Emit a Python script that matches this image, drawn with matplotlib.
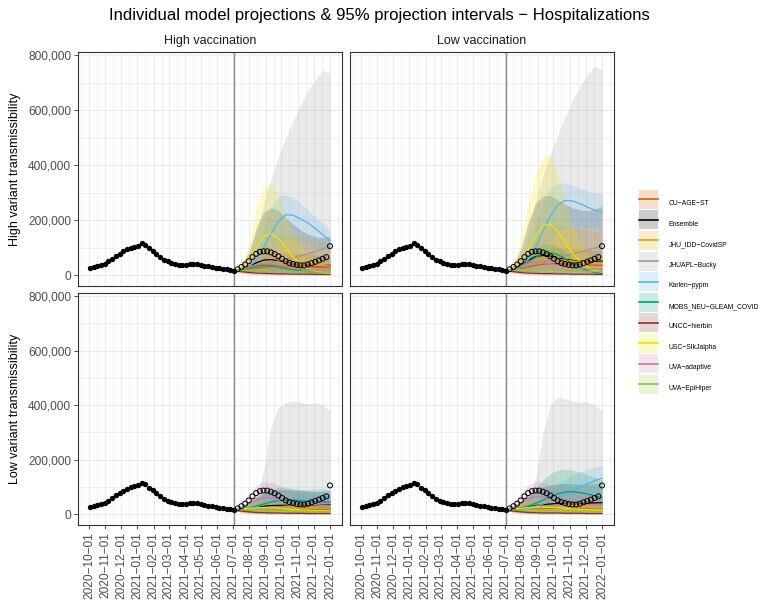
import matplotlib
matplotlib.use("Agg")
import matplotlib.pyplot as plt
import matplotlib.dates as mdates
from matplotlib.patches import Patch, Rectangle
from matplotlib.lines import Line2D
from matplotlib.legend_handler import HandlerPatch
import numpy as np
import pandas as pd

plt.rcParams['font.family'] = ['Liberation Sans', 'DejaVu Sans']

# observed weekly hospitalizations (thousands)
obs_dates = pd.date_range("2020-10-03", "2022-01-01", freq="7D")
obs_past = [28, 31, 34, 37, 42, 50, 60, 70, 79, 87, 94, 100, 104, 108, 116, 110,
            98, 88, 77, 66, 57, 50, 45, 41, 38, 37, 38, 40, 41, 40, 38, 35, 32,
            30, 28, 25, 23, 21, 19, 17]
obs_future = [22, 30, 39, 51, 66, 78, 85, 87, 87, 83, 77, 69, 60, 51, 45, 41,
              38, 36, 36, 39, 44, 49, 54, 60, 66, 106]

proj_dates = pd.date_range("2021-07-03", "2022-01-01", freq="14D")
proj_start = pd.Timestamp("2021-07-03")

models = ["CU-AGE-ST", "Ensemble", "JHU_IDD-CovidSP", "JHUAPL-Bucky", "Karlen-pypm",
          "MOBS_NEU-GLEAM_COVID", "UNCC-hierbin", "USC-SIkJalpha", "UVA-adaptive",
          "UVA-EpiHiper"]
colors = ["#D55E00", "#000000", "#E69F00", "#999999", "#56B4E9",
          "#009E73", "#8B2F23", "#F2E200", "#CC79A7", "#8CC63F"]

# (median, lower, upper) per model, thousands
high_var_high_vax = {
    "CU-AGE-ST": ([17, 19, 22, 26, 30, 32, 33, 33, 32, 31, 30, 29, 28, 27],
                  [17, 14, 13, 13, 13, 13, 12, 12, 11, 11, 10, 10, 10, 10],
                  [17, 26, 38, 55, 70, 80, 84, 84, 82, 79, 76, 74, 72, 70]),
    "Ensemble": ([17, 22, 32, 45, 55, 57, 53, 47, 42, 38, 36, 35, 35, 36],
                 [17, 13, 12, 12, 11, 10, 9, 8, 8, 7, 7, 7, 7, 7],
                 [17, 35, 85, 170, 230, 245, 235, 210, 185, 165, 150, 140, 138, 140]),
    "JHU_IDD-CovidSP": ([17, 20, 27, 36, 44, 48, 48, 45, 42, 40, 38, 36, 35, 34],
                        [17, 12, 12, 14, 15, 15, 14, 13, 12, 11, 10, 10, 9, 9],
                        [17, 28, 50, 85, 115, 135, 145, 148, 147, 143, 138, 133, 127, 120]),
    "JHUAPL-Bucky": ([17, 22, 28, 34, 40, 46, 52, 58, 64, 71, 78, 86, 95, 105],
                     [17, 5, 3, 2, 2, 2, 2, 2, 2, 2, 2, 2, 2, 2],
                     [17, 30, 60, 150, 260, 350, 430, 500, 560, 620, 670, 710, 745, 735]),
    "Karlen-pypm": ([17, 20, 30, 55, 100, 150, 195, 220, 218, 205, 190, 170, 148, 125],
                    [17, 15, 20, 30, 50, 80, 110, 130, 130, 125, 115, 105, 95, 85],
                    [17, 25, 45, 90, 170, 250, 285, 292, 282, 262, 238, 212, 188, 165]),
    "MOBS_NEU-GLEAM_COVID": ([17, 20, 26, 33, 37, 36, 31, 25, 20, 16, 13, 11, 10, 9],
                             [17, 16, 19, 22, 23, 22, 19, 15, 12, 9, 7, 6, 5, 4],
                             [17, 24, 34, 48, 56, 56, 50, 42, 35, 30, 26, 23, 21, 20]),
    "UNCC-hierbin": ([17, 13, 10, 8, 7, 6, 5, 5, 4, 4, 4, 3, 3, 3],
                     [17, 9, 6, 4, 3, 3, 2, 2, 2, 1, 1, 1, 1, 1],
                     [17, 18, 17, 16, 15, 14, 13, 12, 11, 10, 10, 9, 9, 9]),
    "USC-SIkJalpha": ([17, 25, 50, 100, 140, 152, 135, 100, 65, 40, 25, 15, 10, 7],
                      [17, 15, 20, 30, 40, 45, 40, 30, 20, 12, 8, 5, 3, 2],
                      [17, 40, 110, 240, 320, 335, 290, 220, 160, 110, 75, 50, 35, 25]),
    "UVA-adaptive": ([17, 22, 30, 38, 42, 40, 35, 30, 26, 23, 21, 20, 19, 18],
                     [17, 15, 17, 20, 21, 20, 17, 14, 12, 10, 9, 8, 8, 7],
                     [17, 30, 50, 70, 80, 78, 70, 60, 52, 46, 42, 40, 38, 37]),
    "UVA-EpiHiper": ([17, 18, 19, 19, 18, 17, 16, 15, 14, 13, 12, 12, 11, 11],
                     [17, 14, 13, 12, 11, 10, 9, 8, 8, 7, 7, 6, 6, 6],
                     [17, 22, 25, 27, 27, 26, 25, 24, 22, 21, 20, 19, 18, 18]),
}

high_var_low_vax = {
    "CU-AGE-ST": ([17, 20, 24, 30, 36, 40, 42, 42, 41, 40, 39, 38, 37, 36],
                  [17, 14, 14, 15, 16, 16, 16, 15, 15, 14, 14, 13, 13, 13],
                  [17, 28, 42, 62, 80, 92, 98, 100, 99, 97, 95, 93, 91, 90]),
    "Ensemble": ([17, 24, 38, 55, 68, 72, 70, 64, 58, 54, 51, 50, 50, 52],
                 [17, 13, 12, 12, 12, 11, 10, 9, 9, 8, 8, 8, 8, 8],
                 [17, 38, 95, 190, 260, 288, 290, 275, 258, 245, 238, 235, 240, 250]),
    "JHU_IDD-CovidSP": ([17, 22, 30, 42, 52, 58, 60, 58, 55, 52, 50, 48, 47, 46],
                        [17, 13, 13, 15, 17, 18, 18, 17, 16, 15, 14, 14, 13, 13],
                        [17, 30, 55, 95, 135, 162, 175, 180, 178, 175, 170, 165, 160, 155]),
    "JHUAPL-Bucky": ([17, 22, 28, 35, 42, 49, 56, 63, 70, 77, 84, 91, 99, 107],
                     [17, 5, 3, 2, 2, 2, 2, 2, 2, 2, 2, 2, 2, 2],
                     [17, 30, 60, 150, 270, 360, 440, 510, 575, 635, 685, 728, 762, 745]),
    "Karlen-pypm": ([17, 20, 30, 55, 100, 160, 215, 255, 272, 270, 260, 248, 237, 229],
                    [17, 15, 20, 30, 50, 85, 125, 155, 170, 175, 175, 172, 170, 168],
                    [17, 25, 45, 95, 180, 270, 320, 335, 335, 326, 316, 306, 300, 296]),
    "MOBS_NEU-GLEAM_COVID": ([17, 22, 32, 48, 65, 78, 82, 75, 60, 42, 28, 17, 10, 6],
                             [17, 17, 22, 32, 42, 50, 52, 47, 38, 26, 17, 10, 6, 3],
                             [17, 28, 45, 70, 95, 110, 115, 105, 85, 62, 42, 28, 18, 12]),
    "UNCC-hierbin": ([17, 13, 10, 8, 7, 6, 6, 5, 5, 4, 4, 4, 3, 3],
                     [17, 9, 6, 4, 3, 3, 2, 2, 2, 1, 1, 1, 1, 1],
                     [17, 19, 18, 17, 16, 15, 14, 13, 12, 11, 11, 10, 10, 10]),
    "USC-SIkJalpha": ([17, 25, 45, 90, 140, 180, 185, 160, 120, 80, 50, 30, 18, 12],
                      [17, 15, 20, 30, 45, 55, 55, 45, 32, 20, 13, 8, 5, 3],
                      [17, 45, 120, 250, 370, 430, 435, 370, 270, 180, 120, 80, 55, 40]),
    "UVA-adaptive": ([17, 23, 33, 43, 48, 47, 42, 36, 31, 28, 26, 24, 23, 22],
                     [17, 15, 18, 21, 23, 22, 19, 16, 14, 12, 11, 10, 9, 9],
                     [17, 32, 55, 78, 90, 88, 80, 68, 58, 52, 48, 45, 43, 42]),
    "UVA-EpiHiper": ([17, 18, 20, 21, 21, 20, 19, 18, 17, 16, 15, 14, 14, 13],
                     [17, 14, 13, 13, 12, 11, 10, 10, 9, 8, 8, 7, 7, 7],
                     [17, 23, 27, 30, 30, 29, 28, 27, 25, 24, 23, 22, 21, 21]),
}

low_var_high_vax = {
    "CU-AGE-ST": ([17, 17, 18, 19, 20, 20, 20, 20, 19, 19, 18, 18, 18, 17],
                  [17, 12, 10, 9, 9, 8, 8, 8, 7, 7, 7, 7, 6, 6],
                  [17, 22, 27, 32, 36, 38, 39, 39, 38, 37, 36, 35, 35, 34]),
    "Ensemble": ([17, 19, 22, 26, 30, 32, 33, 33, 33, 33, 33, 33, 34, 35],
                 [17, 11, 9, 8, 7, 7, 6, 6, 6, 6, 6, 6, 6, 6],
                 [17, 28, 45, 65, 80, 88, 90, 90, 88, 87, 86, 86, 87, 88]),
    "JHU_IDD-CovidSP": ([17, 18, 19, 21, 22, 23, 23, 23, 22, 22, 22, 21, 21, 21],
                        [17, 11, 10, 10, 10, 9, 9, 9, 9, 8, 8, 8, 8, 8],
                        [17, 25, 33, 42, 48, 52, 54, 54, 53, 52, 51, 50, 50, 49]),
    "JHUAPL-Bucky": ([17, 18, 20, 22, 24, 26, 28, 30, 32, 34, 36, 38, 40, 42],
                     [17, 4, 2, 1, 1, 1, 1, 1, 1, 1, 1, 1, 1, 1],
                     [17, 20, 30, 60, 160, 320, 390, 410, 415, 410, 405, 408, 400, 380]),
    "Karlen-pypm": ([17, 18, 22, 28, 35, 42, 48, 52, 55, 57, 58, 60, 62, 64],
                    [17, 12, 13, 16, 20, 25, 28, 30, 32, 33, 34, 35, 36, 37],
                    [17, 25, 40, 60, 75, 85, 90, 92, 92, 92, 93, 94, 95, 96]),
    "MOBS_NEU-GLEAM_COVID": ([17, 19, 23, 30, 38, 45, 50, 52, 52, 50, 48, 47, 46, 45],
                             [17, 14, 14, 16, 19, 22, 25, 26, 26, 25, 24, 23, 22, 22],
                             [17, 25, 38, 55, 75, 90, 100, 100, 95, 90, 85, 82, 80, 78]),
    "UNCC-hierbin": ([17, 12, 9, 7, 6, 5, 5, 4, 4, 4, 3, 3, 3, 3],
                     [17, 8, 5, 3, 3, 2, 2, 2, 1, 1, 1, 1, 1, 1],
                     [17, 16, 14, 13, 12, 11, 10, 10, 9, 9, 8, 8, 8, 8]),
    "USC-SIkJalpha": ([17, 19, 22, 24, 25, 24, 22, 20, 18, 16, 15, 14, 13, 12],
                      [17, 12, 11, 11, 10, 9, 8, 7, 6, 6, 5, 5, 4, 4],
                      [17, 28, 38, 48, 52, 50, 46, 42, 38, 34, 31, 29, 27, 25]),
    "UVA-adaptive": ([17, 25, 40, 55, 62, 60, 52, 45, 40, 37, 35, 34, 33, 33],
                     [17, 18, 25, 32, 35, 33, 28, 24, 21, 19, 18, 17, 16, 16],
                     [17, 40, 75, 105, 118, 118, 108, 95, 85, 78, 74, 72, 70, 70]),
    "UVA-EpiHiper": ([17, 17, 17, 17, 16, 15, 14, 13, 12, 12, 11, 11, 10, 10],
                     [17, 13, 12, 11, 10, 9, 8, 8, 7, 7, 6, 6, 6, 5],
                     [17, 21, 23, 24, 24, 23, 22, 21, 20, 19, 18, 18, 17, 17]),
}

low_var_low_vax = {
    "CU-AGE-ST": ([17, 17, 18, 20, 21, 22, 22, 22, 22, 21, 21, 21, 20, 20],
                  [17, 12, 10, 9, 9, 9, 8, 8, 8, 8, 7, 7, 7, 7],
                  [17, 22, 28, 34, 39, 42, 44, 44, 43, 42, 41, 40, 40, 39]),
    "Ensemble": ([17, 19, 22, 27, 32, 36, 38, 40, 41, 41, 41, 41, 42, 43],
                 [17, 11, 9, 8, 7, 7, 7, 7, 7, 7, 7, 7, 7, 7],
                 [17, 28, 45, 68, 88, 100, 108, 112, 113, 112, 110, 110, 112, 115]),
    "JHU_IDD-CovidSP": ([17, 18, 20, 22, 24, 25, 25, 25, 25, 24, 24, 24, 23, 23],
                        [17, 11, 10, 10, 10, 10, 10, 9, 9, 9, 9, 9, 9, 9],
                        [17, 25, 35, 45, 52, 57, 59, 60, 59, 58, 57, 56, 56, 55]),
    "JHUAPL-Bucky": ([17, 18, 20, 22, 25, 28, 31, 34, 37, 40, 43, 46, 49, 52],
                     [17, 4, 2, 1, 1, 1, 1, 1, 1, 1, 1, 1, 1, 1],
                     [17, 20, 30, 60, 130, 300, 400, 430, 425, 415, 412, 412, 400, 380]),
    "Karlen-pypm": ([17, 18, 20, 24, 30, 38, 48, 60, 73, 87, 100, 112, 123, 133],
                    [17, 14, 14, 15, 17, 20, 25, 32, 40, 48, 56, 63, 70, 76],
                    [17, 22, 30, 40, 55, 72, 90, 110, 128, 143, 155, 165, 173, 180]),
    "MOBS_NEU-GLEAM_COVID": ([17, 18, 22, 30, 40, 52, 65, 75, 82, 83, 80, 75, 68, 62],
                             [17, 13, 13, 15, 18, 23, 28, 33, 37, 38, 37, 35, 32, 30],
                             [17, 25, 40, 65, 95, 125, 150, 162, 165, 162, 155, 145, 135, 125]),
    "UNCC-hierbin": ([17, 12, 9, 7, 6, 5, 5, 5, 4, 4, 4, 3, 3, 3],
                     [17, 8, 5, 3, 3, 2, 2, 2, 1, 1, 1, 1, 1, 1],
                     [17, 16, 14, 13, 12, 11, 11, 10, 10, 9, 9, 9, 8, 8]),
    "USC-SIkJalpha": ([17, 19, 22, 25, 27, 27, 26, 24, 22, 20, 18, 17, 16, 15],
                      [17, 12, 11, 11, 11, 10, 9, 8, 7, 7, 6, 6, 5, 5],
                      [17, 28, 40, 52, 58, 58, 55, 50, 45, 41, 38, 35, 33, 31]),
    "UVA-adaptive": ([17, 25, 42, 58, 66, 64, 56, 48, 42, 39, 37, 36, 35, 35],
                     [17, 18, 26, 33, 36, 34, 29, 25, 22, 20, 19, 18, 17, 17],
                     [17, 42, 78, 108, 120, 118, 108, 96, 86, 80, 76, 74, 72, 72]),
    "UVA-EpiHiper": ([17, 17, 18, 18, 17, 16, 15, 14, 13, 13, 12, 12, 11, 11],
                     [17, 13, 12, 11, 10, 9, 9, 8, 8, 7, 7, 6, 6, 6],
                     [17, 21, 24, 25, 25, 24, 23, 22, 21, 20, 19, 19, 18, 18]),
}

col_titles = ["High vaccination", "Low vaccination"]
row_titles = ["High variant transmissibility", "Low variant transmissibility"]
panels = [[high_var_high_vax, high_var_low_vax], [low_var_high_vax, low_var_low_vax]]

fig = plt.figure(figsize=(7.72, 6.01), dpi=100)
W, H = 772, 601
boxes = [[(78, 52, 342, 286), (350, 52, 614, 286)],
         [(78, 293, 342, 525), (350, 293, 614, 525)]]

xmin = pd.Timestamp("2020-10-03") - pd.Timedelta(days=22.75)
xmax = pd.Timestamp("2022-01-01") + pd.Timedelta(days=22.75)
grid_c = "#EBEBEB"
text_c = "#4D4D4D"
k = 1000

for r in range(2):
    for c in range(2):
        x0, y0, x1, y1 = boxes[r][c]
        ax = fig.add_axes([x0 / W, 1 - y1 / H, (x1 - x0) / W, (y1 - y0) / H])
        data = panels[r][c]
        for m, col in zip(models, colors):
            med, lo, hi = data[m]
            ax.fill_between(proj_dates, np.array(lo) * k, np.array(hi) * k,
                            color=col, alpha=0.2, lw=0, zorder=2)
        for m, col in zip(models, colors):
            med, lo, hi = data[m]
            ax.plot(proj_dates, np.array(med) * k, color=col, lw=0.9, zorder=3)
        ax.axvline(proj_start, color="#8C8C8C", lw=1.0, zorder=2.5)
        ax.scatter(obs_dates[:len(obs_past)], np.array(obs_past) * k, s=15,
                   color="black", zorder=4, linewidths=0)
        ax.scatter(obs_dates[len(obs_past):], np.array(obs_future) * k, s=13,
                   facecolors="none", edgecolors="black", linewidths=0.7, zorder=4)

        ax.set_xlim(xmin, xmax)
        ax.set_ylim(-39000, 811000)
        ax.xaxis.set_major_locator(mdates.MonthLocator())
        ax.xaxis.set_minor_locator(mdates.MonthLocator(bymonthday=16))
        ax.xaxis.set_major_formatter(mdates.DateFormatter("%Y\u2212%m\u2212%d"))
        ax.set_yticks([0, 200000, 400000, 600000, 800000])
        ax.set_yticks([100000, 300000, 500000, 700000], minor=True)
        ax.yaxis.set_major_formatter(plt.FuncFormatter(lambda v, p: f"{int(v):,}"))
        ax.grid(True, which="major", color=grid_c, lw=0.8, zorder=0)
        ax.grid(True, which="minor", color=grid_c, lw=0.5, zorder=0)
        ax.set_axisbelow(True)
        for s in ax.spines.values():
            s.set_color("#333333")
            s.set_linewidth(0.8)
        ax.tick_params(which="minor", length=0)
        ax.tick_params(which="major", length=3, color="#333333", width=0.6,
                       labelsize=8.6, labelcolor=text_c, pad=2)
        ax.tick_params(axis="x", labelrotation=90)
        if c == 1:
            ax.tick_params(axis="y", labelleft=False, length=0)
        else:
            ax.set_ylabel(row_titles[r], fontsize=9, color="black", labelpad=5)
        if r == 0:
            ax.tick_params(axis="x", labelbottom=False, length=0)
            ax.set_title(col_titles[c], fontsize=9, color="#1A1A1A", pad=6)

fig.suptitle("Individual model projections & 95% projection intervals \u2212 Hospitalizations",
             fontsize=12, x=0.492, y=0.987)


def centred_key(legend, orig_handle, xdescent, ydescent, width, height, fontsize):
    # square key centred on the median line of the entry
    return Rectangle((-xdescent, (height - ydescent) / 2 - height / 2), width, height)


handles = [(Patch(facecolor=col, alpha=0.2, edgecolor="none"),
            Line2D([], [], color=col, lw=1.2)) for col in colors]
labels = [m.replace("-", "\u2212") for m in models]
fig.legend(handles, labels, loc="center left", bbox_to_anchor=(0.823, 0.508),
           frameon=False, fontsize=4.9, handlelength=2.8, handleheight=3.9,
           labelspacing=0.24, handletextpad=1.6, borderpad=0,
           handler_map={Patch: HandlerPatch(patch_func=centred_key)})

fig.savefig("out.png", dpi=100)
